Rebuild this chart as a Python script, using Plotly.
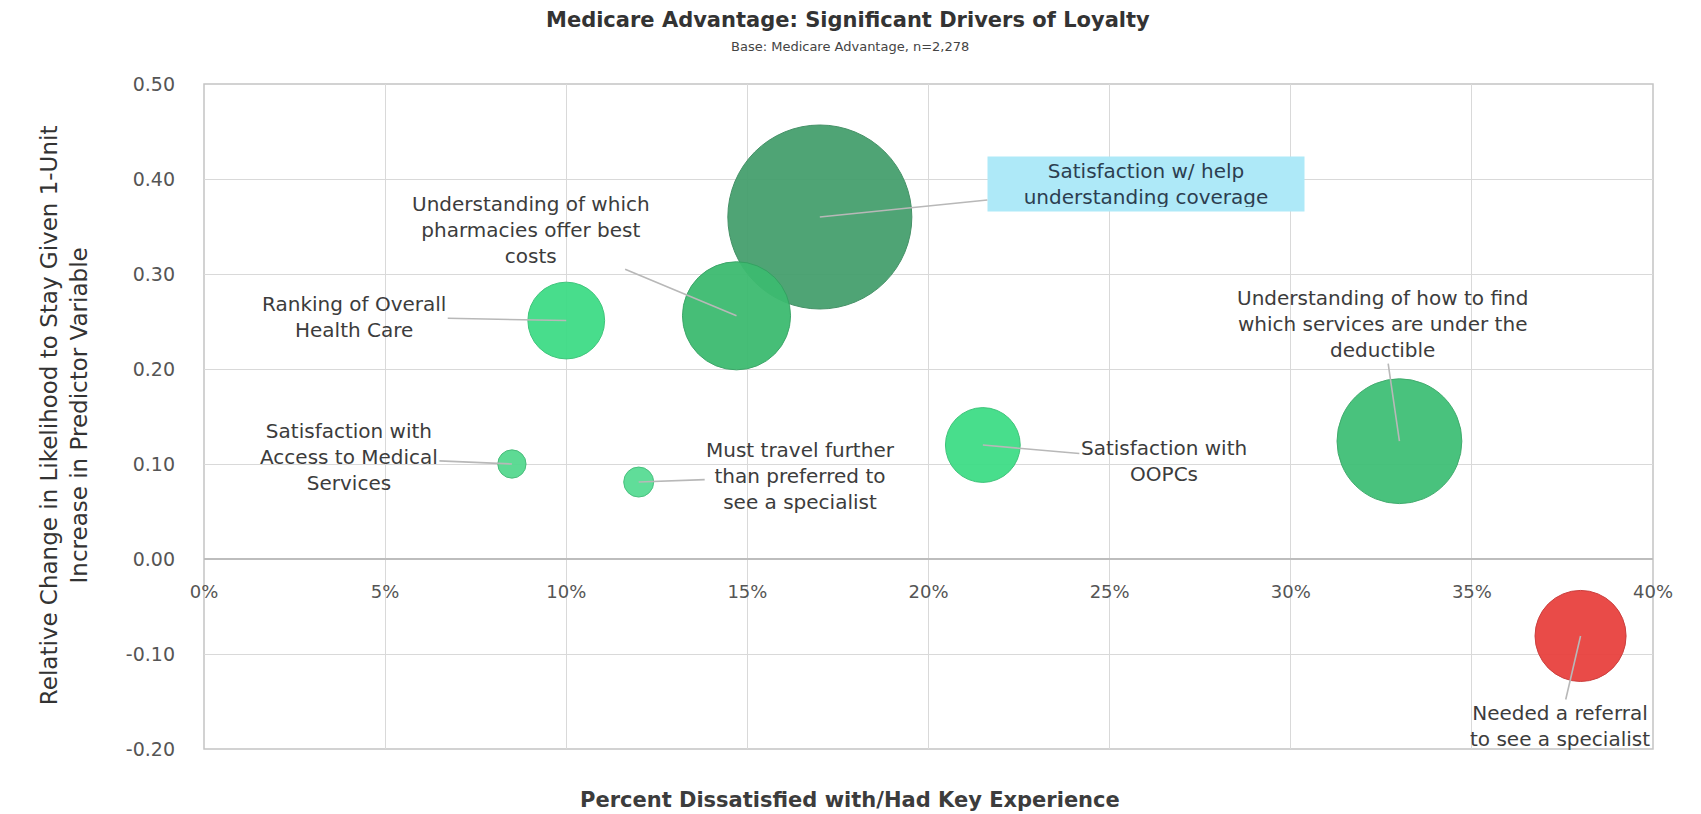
import plotly.graph_objects as go

# ---------------- data ----------------
labels = [
    "Satisfaction w/ help<br>understanding coverage",
    "Understanding of which<br>pharmacies offer best<br>costs",
    "Ranking of Overall<br>Health Care",
    "Satisfaction with<br>Access to Medical<br>Services",
    "Must travel further<br>than preferred to<br>see a specialist",
    "Satisfaction with<br>OOPCs",
    "Understanding of how to find<br>which services are under the<br>deductible",
    "Needed a referral<br>to see a specialist",
]
pct_dissatisfied = [0.170, 0.147, 0.100, 0.085, 0.120, 0.215, 0.330, 0.380]
relative_change = [0.360, 0.256, 0.251, 0.100, 0.081, 0.120, 0.124, -0.081]
bubble_value = [339, 117, 59, 8, 9, 56, 156, 83]

x_ticks = [0.0, 0.05, 0.10, 0.15, 0.20, 0.25, 0.30, 0.35, 0.40]
y_ticks = [-0.20, -0.10, 0.0, 0.10, 0.20, 0.30, 0.40, 0.50]
y_tick_labels = ["-0.20", "-0.10", "0.00", "0.10", "0.20", "0.30", "0.40", "0.50"]

title_text = "Medicare Advantage: Significant Drivers of Loyalty"
subtitle_text = "Base: Medicare Advantage, n=2,278"
x_title = "Percent Dissatisfied with/Had Key Experience"
y_title = "Relative Change in Likelihood to Stay Given 1-Unit<br>Increase in Predictor Variable"

# ---------------- styles ----------------
bubble_colors = ["#46a06e", "#3dbb70", "#3fdc86", "#55d98f", "#58dc94",
                 "#3fdd86", "#40bf77", "#e8423f"]
bubble_lines = ["#3c8c60", "#33a262", "#35c375", "#3fb974", "#40bd78",
                "#35c174", "#37a866", "#c93533"]
# label offsets in pixels (ax, ay) relative to the bubble centre
label_offsets = [(326, -33), (-206, -86), (-212, -4), (-163, -7),
                 (162, -6), (181, 16), (-17, -117), (-21, 90)]

FONT = "DejaVu Sans"
TXT = "#3c3c3c"
GRID = "#d9d9d9"

y_min, y_max = y_ticks[0], y_ticks[-1]
x_min, x_max = x_ticks[0], x_ticks[-1]

fig = go.Figure()
fig.add_trace(go.Scatter(
    x=pct_dissatisfied,
    y=relative_change,
    mode="markers",
    marker=dict(
        size=bubble_value,
        sizemode="area",
        sizeref=2 * max(bubble_value) / (184 ** 2),
        color=bubble_colors,
        opacity=0.95,
        line=dict(color=bubble_lines, width=1),
    ),
    hovertext=[l.replace("<br>", " ") for l in labels],
    hoverinfo="text",
    cliponaxis=False,
    showlegend=False,
))

annotations = []
for i, lab in enumerate(labels):
    ax, ay = label_offsets[i]
    ann = dict(
        x=pct_dissatisfied[i], y=relative_change[i], xref="x", yref="y",
        text=lab, showarrow=True, arrowhead=0, arrowwidth=1.6,
        arrowcolor="#b8b8b8", standoff=0, startstandoff=0,
        ax=ax, ay=ay, axref="pixel", ayref="pixel",
        font=dict(family=FONT, size=20, color=TXT), align="center",
    )
    if i == 0:
        ann.update(bgcolor="#aee9f8", borderpad=4, width=308, height=46,
                   font=dict(family=FONT, size=20, color="#2c3e50"))
    annotations.append(ann)

# titles
annotations += [
    dict(text="<b>" + title_text + "</b>", xref="paper", yref="paper",
         x=0.4444, y=1.096, showarrow=False, xanchor="center", yanchor="middle",
         font=dict(family=FONT, size=21, color="#333333")),
    dict(text=subtitle_text, xref="paper", yref="paper",
         x=0.4460, y=1.057, showarrow=False, xanchor="center", yanchor="middle",
         font=dict(family=FONT, size=13, color="#444444")),
    dict(text="<b>" + x_title + "</b>", xref="paper", yref="paper",
         x=0.4458, y=-0.0767, showarrow=False, xanchor="center", yanchor="middle",
         font=dict(family=FONT, size=21, color="#3c3c3c")),
    dict(text=y_title, xref="paper", yref="paper", textangle=-90,
         x=-0.0966, y=0.502, showarrow=False, xanchor="center", yanchor="middle",
         font=dict(family=FONT, size=23, color="#333333")),
]

fig.update_layout(
    width=1693, height=806,
    margin=dict(l=196, r=48, t=76, b=65),
    paper_bgcolor="white", plot_bgcolor="white",
    font=dict(family=FONT, color=TXT),
    annotations=annotations,
    shapes=[dict(type="rect", xref="paper", yref="paper", x0=0, x1=1, y0=0, y1=1,
                 line=dict(color="#c4c4c4", width=1.5), layer="below")],
    xaxis=dict(
        range=[x_min, x_max], tickvals=x_ticks, tickformat=".0%",
        anchor="free", position=(0 - y_min) / (y_max - y_min),
        showgrid=True, gridcolor=GRID, gridwidth=1,
        zeroline=False, showline=False, ticks="",
        ticklabelstandoff=20,
        tickfont=dict(family=FONT, size=18, color="#555555"),
    ),
    yaxis=dict(
        range=[y_min, y_max], tickvals=y_ticks, ticktext=y_tick_labels,
        showgrid=True, gridcolor=GRID, gridwidth=1,
        zeroline=True, zerolinecolor="#bdbdbd", zerolinewidth=1.5,
        showline=False, ticks="", ticklabelstandoff=28,
        tickfont=dict(family=FONT, size=19, color="#555555"),
    ),
)

fig.write_html("out.html")
